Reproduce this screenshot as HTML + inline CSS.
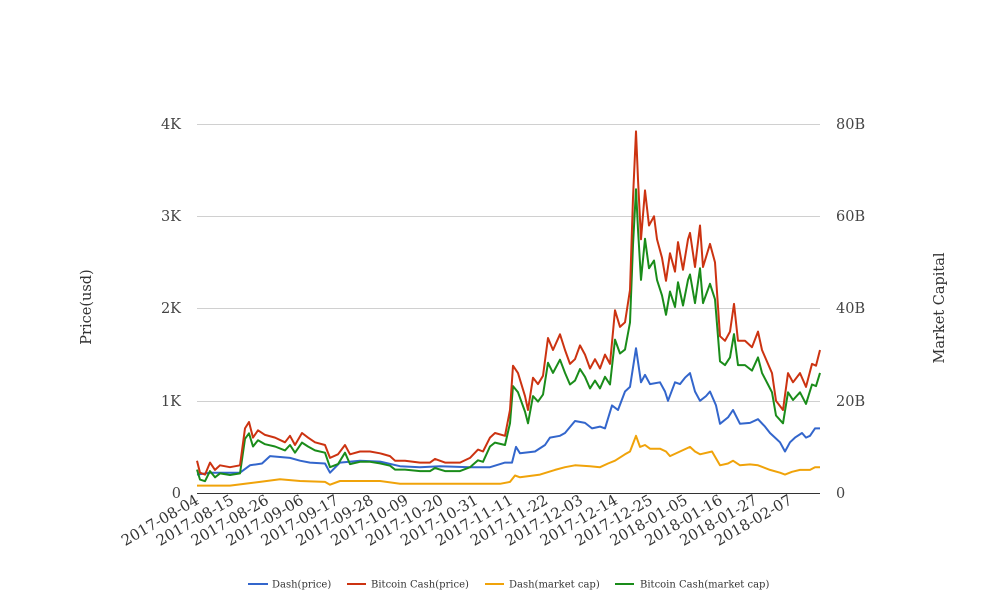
<!DOCTYPE html>
<html><head><meta charset="utf-8"><style>
body{margin:0;background:#fff;}
svg{display:block;font-family:"DejaVu Serif","Liberation Serif",serif;}
</style></head><body>
<svg id="s" width="1008" height="616" xmlns="http://www.w3.org/2000/svg">
<g stroke="#d0d0d0" stroke-width="1">
<line x1="197" x2="820" y1="124.5" y2="124.5"/>
<line x1="197" x2="820" y1="216.5" y2="216.5"/>
<line x1="197" x2="820" y1="308.5" y2="308.5"/>
<line x1="197" x2="820" y1="401.5" y2="401.5"/>
</g>
<line x1="197" x2="820" y1="493.5" y2="493.5" stroke="#333"/>
<g font-size="14.5" fill="#444" text-anchor="end">
<text x="181" y="129">4K</text><text x="181" y="221">3K</text><text x="181" y="313">2K</text><text x="181" y="406">1K</text><text x="181" y="498">0</text>
</g>
<g font-size="14.5" fill="#444" text-anchor="start">
<text x="836" y="129">80B</text><text x="836" y="221">60B</text><text x="836" y="313">40B</text><text x="836" y="406">20B</text><text x="836" y="498">0</text>
</g>
<text transform="translate(91,307) rotate(-90)" font-size="14.5" fill="#333" text-anchor="middle">Price(usd)</text>
<text transform="translate(944,308) rotate(-90)" font-size="14.5" fill="#333" text-anchor="middle">Market Capital</text>
<g id="xt" font-size="15" fill="#333" text-anchor="end"></g>
<g id="lines" fill="none" stroke-width="2" stroke-linejoin="round"></g>
<g font-size="10" fill="#333">
<line x1="248" x2="268" y1="584" y2="584" stroke="#3366cc" stroke-width="2"/><text x="272" y="587.5">Dash(price)</text>
<line x1="347" x2="366" y1="584" y2="584" stroke="#cc3311" stroke-width="2"/><text x="371" y="587.5">Bitcoin Cash(price)</text>
<line x1="485" x2="504" y1="584" y2="584" stroke="#f0a30a" stroke-width="2"/><text x="509" y="587.5">Dash(market cap)</text>
<line x1="615" x2="634" y1="584" y2="584" stroke="#1a8c1a" stroke-width="2"/><text x="640" y="587.5">Bitcoin Cash(market cap)</text>
</g>
</svg>
<script>
var labels=["2017-08-04","2017-08-15","2017-08-26","2017-09-06","2017-09-17","2017-09-28","2017-10-09","2017-10-20","2017-10-31","2017-11-11","2017-11-22","2017-12-03","2017-12-14","2017-12-25","2018-01-05","2018-01-16","2018-01-27","2018-02-07"];
var xt=document.getElementById('xt'),h='';
labels.forEach(function(l,i){var x=200+i*34.9;h+='<text transform="translate('+x+',503) rotate(-30)">'+l+'</text>';});
xt.innerHTML=h;
var red=[[197,.35],[200,.22],[205,.2],[210,.33],[215,.25],[220,.3],[230,.28],[240,.3],[245,.7],[249,.77],[253,.6],[258,.68],[265,.63],[275,.6],[285,.55],[290,.62],[295,.52],[302,.65],[308,.6],[315,.55],[325,.52],[330,.38],[338,.42],[345,.52],[350,.42],[360,.45],[370,.45],[380,.43],[390,.4],[395,.35],[405,.35],[420,.33],[430,.33],[435,.37],[445,.33],[460,.33],[470,.38],[478,.47],[483,.45],[490,.6],[495,.65],[505,.62],[510,.9],[513,1.38],[518,1.3],[525,1.05],[528,.9],[533,1.25],[538,1.18],[543,1.27],[548,1.68],[553,1.55],[560,1.72],[565,1.55],[570,1.4],[575,1.45],[580,1.6],[585,1.5],[590,1.35],[595,1.45],[600,1.35],[605,1.5],[610,1.4],[615,1.98],[620,1.8],[625,1.85],[630,2.2],[633,3.2],[636,3.92],[638,3.4],[641,2.75],[645,3.28],[649,2.9],[654,3.0],[657,2.75],[662,2.55],[666,2.3],[670,2.6],[675,2.4],[678,2.72],[683,2.42],[688,2.75],[690,2.82],[695,2.45],[700,2.9],[703,2.45],[710,2.7],[715,2.5],[720,1.7],[725,1.65],[730,1.75],[734,2.05],[738,1.65],[745,1.65],[752,1.58],[758,1.75],[762,1.55],[768,1.4],[772,1.3],[776,1.0],[783,.9],[788,1.3],[793,1.2],[800,1.3],[806,1.15],[812,1.4],[816,1.38],[820,1.55]];
var green=red.map(function(p){return [p[0],p[1]*0.84-(p[1]<0.5?0.04:0)];});
var blue=[[197,.2],[210,.22],[240,.22],[250,.3],[262,.32],[270,.4],[290,.38],[300,.35],[310,.33],[325,.32],[330,.22],[340,.33],[360,.35],[380,.34],[400,.29],[420,.28],[440,.29],[470,.28],[490,.28],[505,.33],[512,.33],[516,.5],[520,.43],[535,.45],[545,.52],[550,.6],[560,.62],[565,.65],[575,.78],[585,.76],[592,.7],[600,.72],[605,.7],[612,.95],[618,.9],[625,1.1],[630,1.15],[636,1.57],[641,1.2],[645,1.28],[650,1.18],[660,1.2],[665,1.1],[668,1.0],[675,1.2],[680,1.18],[685,1.25],[690,1.3],[695,1.1],[700,1.0],[706,1.05],[710,1.1],[716,.95],[720,.75],[728,.82],[733,.9],[740,.75],[750,.76],[758,.8],[765,.72],[770,.65],[775,.6],[780,.55],[785,.45],[790,.55],[795,.6],[802,.65],[806,.6],[810,.62],[815,.7],[820,.7]];
var orange=[[197,.08],[230,.08],[245,.1],[260,.12],[280,.15],[300,.13],[325,.12],[330,.09],[340,.13],[380,.13],[400,.1],[470,.1],[500,.1],[510,.12],[515,.19],[520,.17],[540,.2],[555,.25],[565,.28],[575,.3],[590,.29],[600,.28],[608,.32],[615,.35],[625,.42],[630,.45],[636,.62],[640,.5],[645,.52],[650,.48],[660,.48],[666,.45],[670,.4],[680,.45],[690,.5],[695,.45],[700,.42],[712,.45],[720,.3],[728,.32],[733,.35],[740,.3],[750,.31],[758,.3],[770,.25],[780,.22],[785,.2],[792,.23],[800,.25],[810,.25],[815,.28],[820,.28]];
function pts(a){return a.map(function(p){return p[0]+','+(493-p[1]*92.25).toFixed(1);}).join(' ');}
document.getElementById('lines').innerHTML=
'<polyline stroke="#f0a30a" points="'+pts(orange)+'"/>'+
'<polyline stroke="#3366cc" points="'+pts(blue)+'"/>'+
'<polyline stroke="#1a8c1a" points="'+pts(green)+'"/>'+
'<polyline stroke="#cc3311" points="'+pts(red)+'"/>';
</script>
</body></html>
